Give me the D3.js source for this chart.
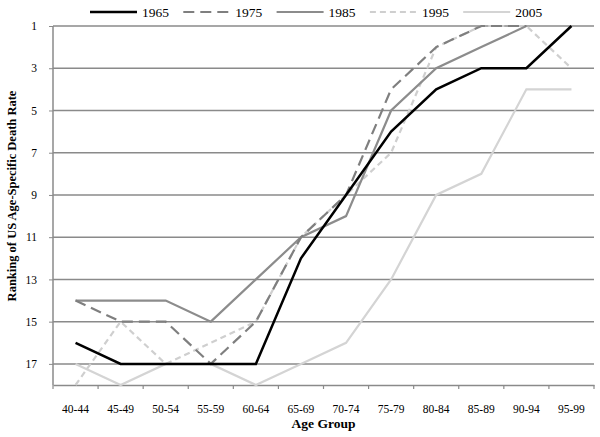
<!DOCTYPE html>
<html>
<head>
<meta charset="utf-8">
<script src="https://cdn.jsdelivr.net/npm/d3@7"></script>
<style>
  body { margin: 0; background: #fff; }
  text { font-family: "Liberation Serif", "Times New Roman", serif; }
</style>
</head>
<body>
<script>
// Data
const ageGroups = ["40-44", "45-49", "50-54", "55-59", "60-64", "65-69",
                   "70-74", "75-79", "80-84", "85-89", "90-94", "95-99"];
const rank1965 = [16, 17, 17, 17, 17, 12, 9, 6, 4, 3, 3, 1];
const rank1975 = [14, 15, 15, 17, 15, 11, 9, 4, 2, 1, 1, null];
const rank1985 = [14, 14, 14, 15, 13, 11, 10, 5, 3, 2, 1, null];
const rank1995 = [18, 15, 17, 16, 15, 11, 9, 7, 2, 1, 1, 3];
const rank2005 = [17, 18, 17, 17, 18, 17, 16, 13, 9, 8, 4, 4];
const yTicks = [1, 3, 5, 7, 9, 11, 13, 15, 17];

const series = [
    { name: "1965", values: rank1965, color: "#000000", width: 2.5, dash: null },
    { name: "1975", values: rank1975, color: "#7f7f7f", width: 2.2, dash: "11,6" },
    { name: "1985", values: rank1985, color: "#8c8c8c", width: 2.2, dash: null },
    { name: "1995", values: rank1995, color: "#cfcfcf", width: 2.2, dash: "6,4" },
    { name: "2005", values: rank2005, color: "#d4d4d4", width: 2.2, dash: null }
];

const width = 600;
const height = 437;
const margin = { top: 26, right: 6, bottom: 52, left: 53 };

const svg = d3.select("body").append("svg")
    .attr("width", width)
    .attr("height", height);

const x = d3.scaleBand()
    .domain(ageGroups)
    .range([margin.left, width - margin.right]);

const y = d3.scaleLinear()
    .domain([1, 18])
    .range([margin.top, height - margin.bottom]);

// Gridlines
svg.append("g")
    .selectAll("line")
    .data(yTicks)
    .join("line")
    .attr("x1", margin.left)
    .attr("x2", width - margin.right)
    .attr("y1", d => y(d))
    .attr("y2", d => y(d))
    .attr("stroke", "#8a8a8a")
    .attr("stroke-width", 1.5);

// Y axis
const yAxis = svg.append("g")
    .attr("transform", `translate(${margin.left},0)`)
    .call(d3.axisLeft(y).tickValues(yTicks).tickSize(4).tickPadding(12));
yAxis.select(".domain").attr("stroke", "#8a8a8a").attr("stroke-width", 1.5)
    .attr("d", `M0,${y(1)}V${y(18)}`);
yAxis.selectAll(".tick line").attr("stroke", "#8a8a8a");
yAxis.selectAll(".tick text")
    .attr("font-size", 11.5)
    .attr("font-family", "Liberation Serif")
    .attr("fill", "#000");

// X axis
const xAxis = svg.append("g")
    .attr("transform", `translate(0,${y(18)})`)
    .call(d3.axisBottom(x).tickSize(0).tickPadding(20));
xAxis.select(".domain").attr("stroke", "#8a8a8a").attr("stroke-width", 1.5);
xAxis.selectAll(".tick text")
    .attr("font-size", 11.5)
    .attr("font-family", "Liberation Serif")
    .attr("fill", "#000");
// tick marks between categories
const bounds = ageGroups.map(d => x(d)).concat([x(ageGroups[ageGroups.length - 1]) + x.bandwidth()]);
svg.append("g")
    .selectAll("line")
    .data(bounds)
    .join("line")
    .attr("x1", d => d)
    .attr("x2", d => d)
    .attr("y1", y(18))
    .attr("y2", y(18) + 4)
    .attr("stroke", "#8a8a8a")
    .attr("stroke-width", 1.2);

// Lines
const line = d3.line()
    .defined(d => d.v != null)
    .x(d => x(d.age) + x.bandwidth() / 2)
    .y(d => y(d.v));

// draw light ones first so the dark lines sit on top
const drawOrder = [4, 3, 2, 1, 0];
drawOrder.forEach(i => {
    const s = series[i];
    svg.append("path")
        .datum(s.values.map((v, j) => ({ age: ageGroups[j], v: v })))
        .attr("fill", "none")
        .attr("stroke", s.color)
        .attr("stroke-width", s.width)
        .attr("stroke-dasharray", s.dash)
        .attr("d", line);
});

// Legend
const legend = svg.append("g")
    .selectAll("g")
    .data(series)
    .join("g")
    .attr("transform", (d, i) => `translate(${90 + i * 93.3},12)`);
legend.append("line")
    .attr("x1", 0)
    .attr("x2", 47)
    .attr("stroke", d => d.color)
    .attr("stroke-width", d => d.width)
    .attr("stroke-dasharray", d => d.dash);
legend.append("text")
    .attr("x", 52)
    .attr("dy", "0.35em")
    .attr("font-size", 13.5)
    .text(d => d.name);

// Axis titles
svg.append("text")
    .attr("x", (margin.left + width - margin.right) / 2)
    .attr("y", 428)
    .attr("text-anchor", "middle")
    .attr("font-size", 13.5)
    .attr("font-weight", "bold")
    .text("Age Group");

svg.append("text")
    .attr("transform", `translate(16,196) rotate(-90)`)
    .attr("text-anchor", "middle")
    .attr("font-size", 12.5)
    .attr("font-weight", "bold")
    .text("Ranking of US Age-Specific Death Rate");
</script>
</body>
</html>
